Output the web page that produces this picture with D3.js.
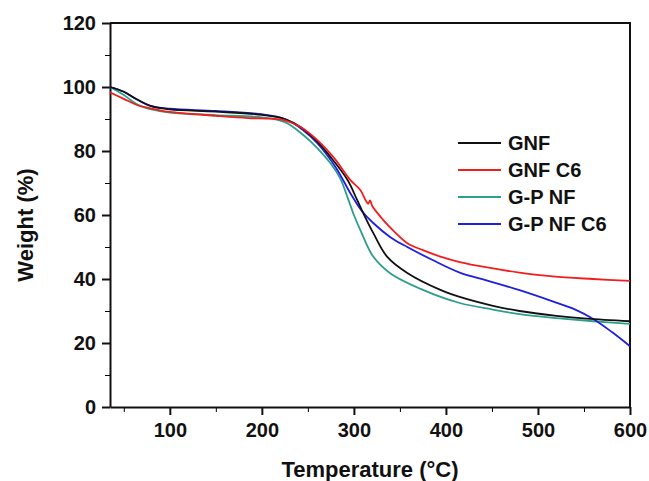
<!DOCTYPE html>
<html>
<head>
<meta charset="utf-8">
<script src="https://cdn.jsdelivr.net/npm/d3@7"></script>
<style>
  body { margin: 0; background: #fff; }
  text { font-family: Arial, "Liberation Sans", sans-serif; font-weight: bold; }
</style>
</head>
<body>
<div id="chart"></div>
<script>
// TGA curves as [temperature, weight %]
var gnf = [[35,100],[50,98.5],[65,96],[80,94],[100,93],[150,92.3],[200,91.3],[225,90],[242,87.5],[260,83],[275,78],[293,71],[303.5,64.7],[312,59.5],[321,54.4],[336,47],[358,41.9],[394,36.6],[415,34.4],[450,31.7],[480,30],[520,28.5],[553,27.6],[600,26.8]];
var gnfC6 = [[35,98.3],[50,96.3],[65,94.3],[85,93],[100,92.2],[150,91],[185,90.3],[210,90.1],[225,89.6],[242,87.5],[260,83.5],[278,78],[296,71],[307,67.8],[313,64.5],[315.5,63.5],[317.5,64.6],[320,62.8],[332,58.4],[345,54.5],[358,51.2],[375,49],[394,47],[415,45.3],[445,43.6],[480,42],[516,40.8],[560,40],[600,39.4]];
var gpNF = [[35,100],[50,97.5],[65,94.5],[80,93],[100,92],[150,91.2],[200,90.5],[225,89],[245,85],[260,81],[275,76],[285,71.5],[293,65.6],[300,60],[307,55.3],[321,47],[339,41.9],[375,36.6],[415,32.5],[450,30.5],[480,29],[520,27.8],[560,26.8],[600,26]];
var gpNFC6 = [[35,100],[50,98.5],[65,96],[80,94],[100,93.2],[150,92.5],[200,91.5],[225,90],[245,86.5],[260,82.5],[280,75],[296,66.9],[308,61.5],[321,57.5],[340,53],[358,50],[385,46],[415,42],[445,39.5],[480,36.5],[516,33],[540,30.5],[560,27.5],[580,23.5],[600,19]];

var seriesNames = ["GNF", "GNF C6", "G-P NF", "G-P NF C6"];
var seriesColors = ["#111111", "#f21d1d", "#2e9e8c", "#1f1fe0"];
var xTicks = [100, 200, 300, 400, 500, 600];
var yTicks = [0, 20, 40, 60, 80, 100, 120];

var width = 649, height = 481;
var margin = {left: 110, top: 23, right: 19, bottom: 74};
var w = width - margin.left - margin.right;
var h = height - margin.top - margin.bottom;

var svg = d3.select("#chart").append("svg")
  .attr("width", width)
  .attr("height", height);

var g = svg.append("g").attr("transform", "translate(" + margin.left + "," + margin.top + ")");

var x = d3.scaleLinear().domain([35, 600]).range([0, w]);
var y = d3.scaleLinear().domain([0, 120]).range([h, 0]);

// minor ticks first, then the major ones with labels
g.append("g")
  .attr("transform", "translate(0," + h + ")")
  .call(d3.axisBottom(x).tickValues(d3.range(50, 600, 100)).tickSize(5).tickFormat(""))
  .call(function(a) { a.select(".domain").remove(); });
g.append("g")
  .call(d3.axisLeft(y).tickValues(d3.range(10, 120, 20)).tickSize(5).tickFormat(""))
  .call(function(a) { a.select(".domain").remove(); });

var xAxis = g.append("g")
  .attr("transform", "translate(0," + h + ")")
  .call(d3.axisBottom(x).tickValues(xTicks).tickSize(8).tickPadding(8).tickSizeOuter(0));
var yAxis = g.append("g")
  .call(d3.axisLeft(y).tickValues(yTicks).tickSize(8).tickPadding(6).tickSizeOuter(0));

[xAxis, yAxis].forEach(function(a) {
  a.selectAll("text").style("font-size", "20px").attr("fill", "#111");
  a.selectAll("line").attr("stroke", "#111").attr("stroke-width", 2);
  a.select(".domain").attr("stroke", "#111").attr("stroke-width", 2);
});

// top and right frame
g.append("path")
  .attr("d", "M0,0H" + w + "V" + h)
  .attr("fill", "none")
  .attr("stroke", "#111")
  .attr("stroke-width", 2);

var line = d3.line()
  .x(function(d) { return x(d[0]); })
  .y(function(d) { return y(d[1]); })
  .curve(d3.curveCatmullRom.alpha(0.5));

var allSeries = [gnf, gnfC6, gpNF, gpNFC6];
// draw blue and teal under black/red like the picture
[2, 3, 0, 1].forEach(function(i) {
  g.append("path")
    .datum(allSeries[i])
    .attr("d", line)
    .attr("fill", "none")
    .attr("stroke", seriesColors[i])
    .attr("stroke-width", 1.8);
});

// legend
var legend = svg.append("g").attr("transform", "translate(458,143)");
seriesNames.forEach(function(name, i) {
  legend.append("line")
    .attr("x1", 0).attr("x2", 43)
    .attr("y1", i * 27).attr("y2", i * 27)
    .attr("stroke", seriesColors[i])
    .attr("stroke-width", 2);
  legend.append("text")
    .attr("x", 50)
    .attr("y", i * 27 + 7)
    .style("font-size", "20px")
    .attr("fill", "#111")
    .text(name);
});

// axis titles
svg.append("text")
  .attr("x", 370)
  .attr("y", 477)
  .attr("text-anchor", "middle")
  .style("font-size", "22px")
  .attr("fill", "#111")
  .text("Temperature (°C)");

svg.append("text")
  .attr("transform", "translate(33,225) rotate(-90)")
  .attr("text-anchor", "middle")
  .style("font-size", "22px")
  .attr("fill", "#111")
  .text("Weight (%)");
</script>
</body>
</html>
